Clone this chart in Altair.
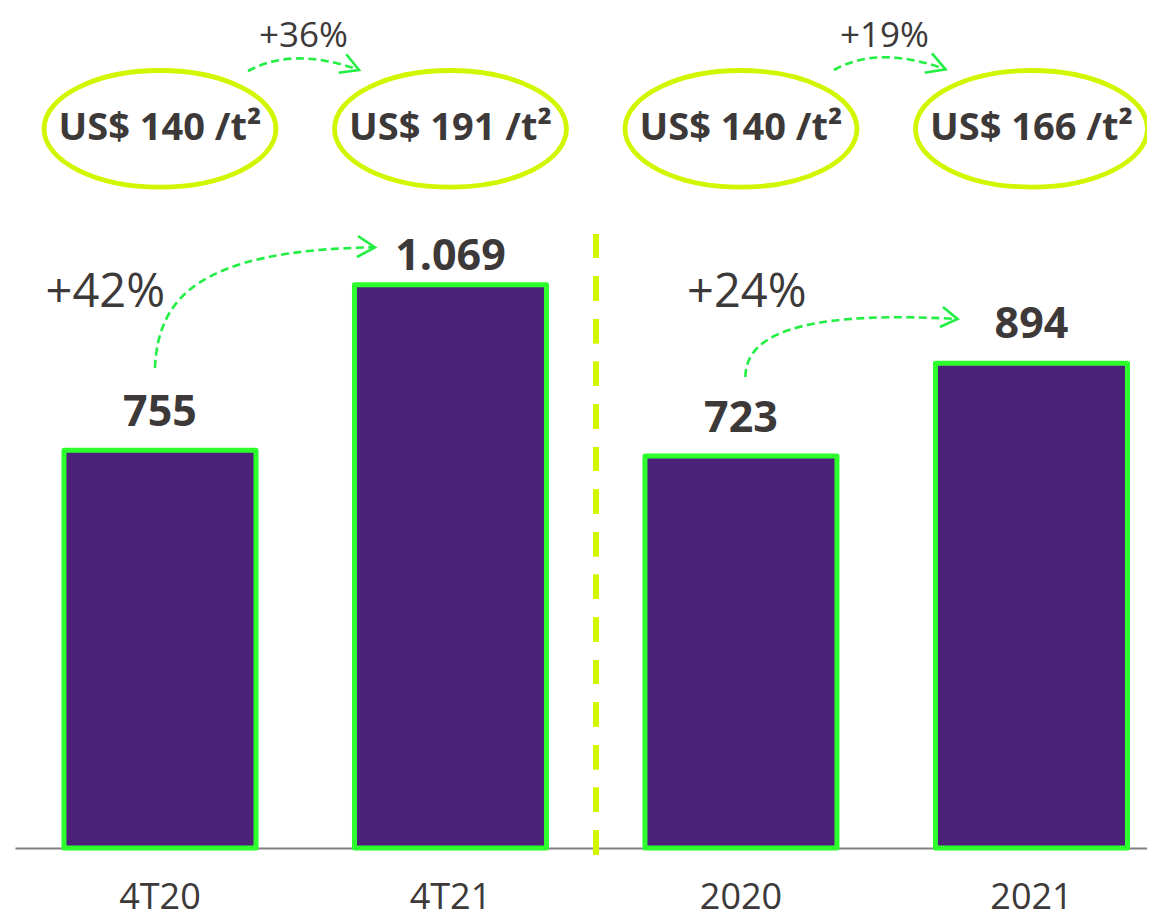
import altair as alt
import pandas as pd

# ---------------- data ----------------
categories = ["4T20", "4T21", "2020", "2021"]
groups = ["q", "q", "y", "y"]
values = [755, 1069, 723, 894]
value_labels = ["755", "1.069", "723", "894"]
prices = ["US$ 140 /t²", "US$ 191 /t²", "US$ 140 /t²", "US$ 166 /t²"]

price_growth_from = ["4T20", "2020"]
price_growth = ["+36%", "+19%"]
volume_growth_from = ["4T20", "2020"]
volume_growth = ["+42%", "+24%"]

arrow_from = ["4T20", "2020", "4T20", "2020"]
arrow_ids = ["price_q", "price_y", "vol_q", "vol_y"]

# the two halves of the original slide use slightly different value scales
Y_MAX_Q = 1594
Y_MAX_Y = 1549

# ---------------- styles ----------------
PURPLE = "#4b2278"
GREEN = "#2cff2c"
LIME = "#d2f500"
ARROW = "#22ee44"
TEXT = "#3d3939"
GRAY = "#808080"
FONT = "Open Sans"

ELLIPSE = "M -116 0 A 116 58.3 0 1 0 116 0 A 116 58.3 0 1 0 -116 0 Z"
CURVES = [
    "M 88 63 Q 133.5 38.3 199 62",
    "M 93 62 Q 137 37 204.6 61.3",
    "M -5 360 C -2 292 35 242 215 239.3",
    "M 4.5 369 C 4 317 89 304 216.5 311",
]
HEADS = [
    "M 186.3 46.3 L 199 62 L 178.7 64.7",
    "M 191 45.3 L 204.6 61.3 L 183.7 64.7",
    "M 198 228 L 215 239.3 L 197 249",
    "M 202 299 L 216.5 311 L 199 319",
]

df = pd.DataFrame({
    "cat": categories, "grp": groups, "value": values,
    "label": value_labels, "price": prices,
})
df_pg = pd.DataFrame({"cat": price_growth_from, "txt": price_growth})
df_vg = pd.DataFrame({"cat": volume_growth_from, "txt": volume_growth})
df_ar = pd.DataFrame({"cat": arrow_from, "arrow": arrow_ids})

x_scale = alt.Scale(domain=categories, paddingInner=0.339,
                    paddingOuter=0.1179, align=0.715)

x_axis = alt.Axis(title=None, labelFont=FONT, labelFontSize=36,
                  labelColor=TEXT, labelPadding=60, labelBaseline="alphabetic",
                  ticks=False, tickSize=0, domain=True, domainColor=GRAY,
                  domainWidth=2, grid=False, labelAngle=0, labelOverlap=False)


def X():
    return alt.X("cat:N", scale=x_scale, axis=x_axis, title=None)


base = alt.Chart(df)

separator = base.mark_rule(stroke=LIME, strokeWidth=6,
                           strokeDash=[24, 18.6]).encode(
    x=alt.value(581), y=alt.value(226), y2=alt.value(849))


def bars(grp, ymax):
    return base.transform_filter(alt.datum.grp == grp).mark_bar(
        fill=PURPLE, stroke=GREEN, strokeWidth=5, strokeJoin="round"
    ).encode(
        x=X(),
        y=alt.Y("value:Q", scale=alt.Scale(domain=[0, ymax]), axis=None),
    )


def value_label(cat, ymax, dy):
    return base.transform_filter(alt.datum.cat == cat).mark_text(
        font=FONT, fontWeight="bold", fontSize=43, color=TEXT,
        baseline="alphabetic", dy=dy
    ).encode(
        x=X(),
        y=alt.Y("value:Q", scale=alt.Scale(domain=[0, ymax]), axis=None),
        text="label:N",
    )


ellipses = base.mark_point(shape=ELLIPSE, size=4, filled=False, stroke=LIME,
                           strokeWidth=4.8, opacity=1).encode(
    x=X(), y=alt.value(120.8))

price_text = base.mark_text(font=FONT, fontWeight="bold", fontSize=38,
                            color=TEXT, baseline="alphabetic").encode(
    x=X(), y=alt.value(132), text="price:N")

price_growth_text = alt.Chart(df_pg).mark_text(
    font=FONT, fontSize=35, color=TEXT, baseline="alphabetic", dx=143.5
).encode(x=X(), y=alt.value(38.5), text="txt:N")


def vol_growth(cat, dx):
    return alt.Chart(df_vg).transform_filter(alt.datum.cat == cat).mark_text(
        font=FONT, fontSize=47, color=TEXT, baseline="alphabetic", dx=dx
    ).encode(x=X(), y=alt.value(298.5), text="txt:N")


curves = alt.Chart(df_ar).mark_point(
    size=4, filled=False, stroke=ARROW, strokeWidth=2.6,
    strokeDash=[8, 4.5], opacity=1
).encode(
    x=X(), y=alt.value(0),
    shape=alt.Shape("arrow:N", scale=alt.Scale(domain=arrow_ids, range=CURVES),
                    legend=None),
)

heads = alt.Chart(df_ar).mark_point(
    size=4, filled=False, stroke=ARROW, strokeWidth=2.6, opacity=1
).encode(
    x=X(), y=alt.value(0),
    shape=alt.Shape("arrow:N", scale=alt.Scale(domain=arrow_ids, range=HEADS),
                    legend=None),
)

chart = alt.layer(
    separator,
    bars("q", Y_MAX_Q),
    bars("y", Y_MAX_Y),
    value_label("4T20", Y_MAX_Q, -24.5),
    value_label("4T21", Y_MAX_Q, -14.2),
    value_label("2020", Y_MAX_Y, -24.1),
    value_label("2021", Y_MAX_Y, -24.9),
    ellipses,
    price_text,
    price_growth_text,
    vol_growth("4T20", -54.7),
    vol_growth("2020", 5.8),
    curves,
    heads,
).resolve_scale(
    y="independent", shape="independent"
).properties(
    width=1132, height=840,
    autosize=alt.AutoSizeParams(type="none"),
    padding={"left": 7, "top": 0, "right": 0, "bottom": 70},
    background="white",
).configure_view(stroke=None)

chart.save("out.html", embed_options={"renderer": "svg", "actions": False})
